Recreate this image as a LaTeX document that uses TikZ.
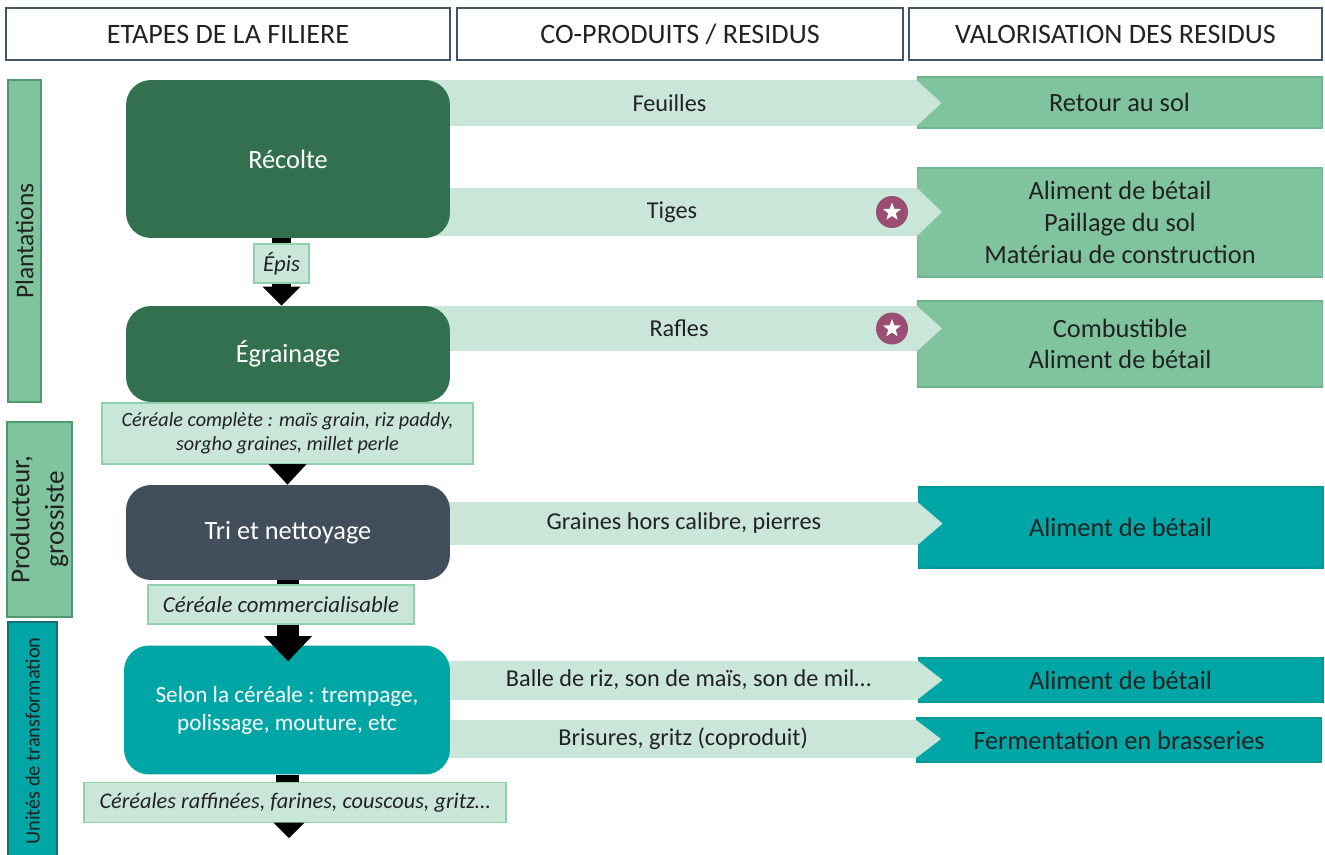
\documentclass[tikz,border=0pt]{standalone}
\usepackage{fontspec}
\setmainfont{Carlito}
\usetikzlibrary{shapes.geometric, arrows.meta, backgrounds}

\definecolor{headline}{HTML}{44546A}
\definecolor{greenstep}{HTML}{33704F}
\definecolor{slatestep}{HTML}{424E5C}
\definecolor{tealstep}{HTML}{00A6A6}
\definecolor{tealline}{HTML}{17706F}
\definecolor{lightres}{HTML}{7FC49E}
\definecolor{lightline}{HTML}{6DB78E}
\definecolor{bandline}{HTML}{4E9A6E}
\definecolor{mint}{HTML}{C9E6D8}
\definecolor{mintline}{HTML}{8FD0AD}
\definecolor{badge}{HTML}{9B4E73}
\definecolor{ink}{HTML}{222222}

\tikzstyle{headbox} = [draw=headline, line width=1.3pt, minimum height=1.04cm, inner sep=0pt, text=ink, font=\fontsize{16}{19}\selectfont]
\tikzstyle{band} = [rotate=90, line width=1.1pt, inner sep=0pt, align=center, text=ink]
\tikzstyle{stepbox} = [rounded corners=0.5cm, minimum width=6.48cm, inner sep=0pt, align=center, text=white, font=\fontsize{15}{16}\selectfont]
\tikzstyle{flowlabel} = [fill=mint, draw=mintline, line width=0.9pt, inner sep=0pt, align=center, text=ink]
\tikzstyle{outbox} = [minimum width=8.1cm, inner sep=0pt, align=center, text=ink, line width=0.6pt, font=\fontsize{15}{18}\selectfont]
\tikzstyle{cobar} = [draw=mint, shorten <=-0.7cm, shorten >=-0.5cm, -{Triangle[length=0.5cm, width=0pt 1, line width=0pt]}]
\tikzstyle{bartext} = [text=ink, font=\fontsize{13.8}{16}\selectfont]
\tikzstyle{flowshaft} = [draw=black]
\tikzstyle{badgedot} = [circle, fill=badge, minimum size=0.64cm, inner sep=0pt]
\tikzstyle{badgestar} = [star, star points=5, star point ratio=2.4, fill=white, minimum size=0.38cm, inner sep=0pt]

\begin{document}
\begin{tikzpicture}[x=0.02cm, y=-0.02cm]
  \useasboundingbox (0,0) rectangle (1325,855);
  \clip (0,0) rectangle (1325,855);

  % Headers
  \node[headbox, minimum width=8.88cm] (etapes) at (228,34) {ETAPES DE LA FILIERE};
  \node[headbox, minimum width=8.92cm] (coprod) at (680,34) {CO-PRODUITS / RESIDUS};
  \node[headbox, minimum width=8.26cm] (valor) at (1115.5,34) {VALORISATION DES RESIDUS};

  % Actors
  \node[band, draw=bandline, fill=lightres, minimum width=6.44cm, minimum height=0.66cm, font=\fontsize{14.5}{16}\selectfont] (plant) at (24.5,241) {Plantations};
  \node[band, draw=bandline, fill=lightres, minimum width=3.9cm, minimum height=1.3cm, font=\fontsize{15.5}{19.5}\selectfont] (prod) at (39.5,519.5) {Producteur,\\grossiste};
  \node[band, draw=tealline, fill=tealstep, minimum width=4.76cm, minimum height=0.98cm, font=\fontsize{11.6}{14}\selectfont] (unites) at (32.5,741) {Unités de transformation};

  % Steps
  \node[stepbox, fill=greenstep, minimum height=3.16cm] (recolte) at (288,159) {Récolte};
  \node[stepbox, fill=greenstep, minimum height=1.92cm] (egrain) at (288,354) {Égrainage};
  \node[stepbox, fill=slatestep, minimum height=1.9cm] (tri) at (288,532.5) {Tri et nettoyage};
  \node[stepbox, fill=tealstep, minimum width=6.52cm, minimum height=2.58cm, font=\fontsize{13.2}{16}\selectfont] (selon) at (287,710) {Selon la céréale : trempage,\\polissage, mouture, etc};

  % Products
  \node[flowlabel, minimum width=1.1cm, minimum height=0.78cm, font=\itshape\fontsize{13}{15}\selectfont] (epis) at (281.5,263.5) {Épis};
  \node[flowlabel, minimum width=7.42cm, minimum height=1.22cm, font=\itshape\fontsize{11.5}{13.6}\selectfont] (cereale) at (287.5,433.5) {Céréale complète : maïs grain, riz paddy,\\sorgho graines, millet perle};
  \node[flowlabel, minimum width=5.32cm, minimum height=0.78cm, font=\itshape\fontsize{13}{15}\selectfont] (commerc) at (281,604.5) {Céréale commercialisable};
  \node[flowlabel, minimum width=8.44cm, minimum height=0.8cm, font=\itshape\fontsize{12.7}{15}\selectfont] (raffine) at (295,802.5) {Céréales raffinées, farines, couscous, gritz…};
  \coordinate (fin) at (289,838);

  % Edges
  \draw[flowshaft, line width=0.38cm] (epis |- recolte.south) -- (epis.north);
  \draw[flowshaft, line width=0.38cm, -{Triangle[length=0.38cm, width=0.76cm, line width=0pt]}] (epis.south) -- (epis |- egrain.north);
  \draw[flowshaft, line width=0.38cm, -{Triangle[length=0.41cm, width=0.76cm, line width=0pt]}] (cereale.south) -- (cereale |- tri.north);
  \draw[flowshaft, line width=0.44cm] (tri.south) -- (tri.south |- commerc.north);
  \draw[flowshaft, line width=0.44cm, shorten >=-0.32cm, -{Triangle[length=0.5cm, width=0.96cm, line width=0pt]}] (tri.south |- commerc.south) -- (tri.south |- selon.north);
  \draw[flowshaft, line width=0.46cm] (selon.south) -- (selon.south |- raffine.north);
  \draw[flowshaft, line width=0.46cm, -{Triangle[length=0.31cm, width=0.62cm, line width=0pt]}] (fin |- raffine.south) -- (fin);

  \begin{scope}[on background layer]
    % Outlets
    \node[outbox, fill=lightres, draw=lightline, minimum height=1.02cm] (retour) at (1119.5,102.5) {Retour au sol};
    \node[outbox, fill=lightres, draw=lightline, minimum height=2.18cm] (usages) at (1120,222.5) {Aliment de bétail\\Paillage du sol\\Matériau de construction};
    \node[outbox, fill=lightres, draw=lightline, minimum height=1.72cm] (combust) at (1120,344) {Combustible\\Aliment de bétail};
    \node[outbox, fill=tealstep, draw=tealstep!92!black, minimum height=1.62cm] (alim1) at (1120.5,527.5) {Aliment de bétail};
    \node[outbox, fill=tealstep, draw=tealstep!92!black, minimum height=0.88cm] (alim2) at (1120.5,680) {Aliment de bétail};
    \node[outbox, fill=tealstep, draw=tealstep!92!black, minimum height=0.88cm] (ferment) at (1119,740) {Fermentation en brasseries};

    % Co-products
    \coordinate (row1) at (0,103);
    \coordinate (row2) at (0,212);
    \coordinate (row3) at (0,328.5);
    \coordinate (row4) at (0,523.5);
    \coordinate (row5) at (0,680);
    \coordinate (row6) at (0,739);
    \draw[cobar, line width=0.92cm] (recolte.east |- row1) -- (retour.west |- row1) node[bartext, pos=.47] (feuilles) {Feuilles};
    \draw[cobar, line width=0.96cm] (recolte.east |- row2) -- (usages.west |- row2) node[bartext, pos=.475] (tiges) {Tiges};
    \draw[cobar, line width=0.9cm] (egrain.east |- row3) -- (combust.west |- row3) node[bartext, pos=.49] (rafles) {Rafles};
    \draw[cobar, line width=0.86cm] (tri.east |- row4) -- (alim1.west |- row4) node[bartext, pos=.5] (graines) {Graines hors calibre, pierres};
    \draw[cobar, line width=0.78cm] (selon.east |- row5) -- (alim2.west |- row5) node[bartext, pos=.51] (balle) {Balle de riz, son de maïs, son de mil…};
    \draw[cobar, line width=0.76cm] (selon.east |- row6) -- (ferment.west |- row6) node[bartext, pos=.5] (brisures) {Brisures, gritz (coproduit)};
  \end{scope}

  % Stars
  \node[badgedot] (star1) at (892,212) {};
  \node[badgestar] (star1s) at (star1) {};
  \node[badgedot] (star2) at (892,328.5) {};
  \node[badgestar] (star2s) at (star2) {};
\end{tikzpicture}
\end{document}
